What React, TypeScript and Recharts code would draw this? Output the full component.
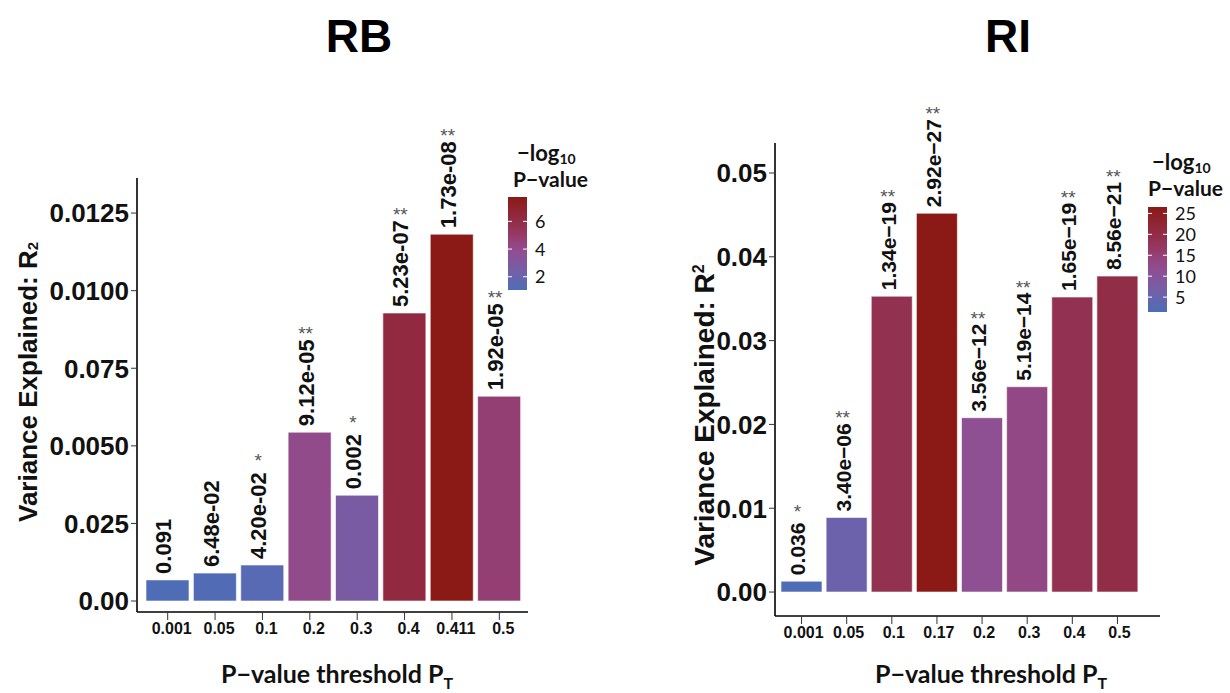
import React from "react";
import { BarChart, Bar, XAxis, YAxis, Cell, LabelList } from "recharts";

// RB panel
const rbThresholds = ["0.001", "0.05", "0.1", "0.2", "0.3", "0.4", "0.411", "0.5"];
const rbR2 = [0.00068, 0.0009, 0.00116, 0.00544, 0.00341, 0.00928, 0.01182, 0.0066];
const rbPValues = [0.091, 0.0648, 0.042, 9.12e-5, 0.002, 5.23e-7, 1.73e-8, 1.92e-5];
const rbPLabels = ["0.091", "6.48e-02", "4.20e-02", "9.12e-05", "0.002", "5.23e-07", "1.73e-08", "1.92e-05"];
const rbStars = ["", "", "*", "**", "*", "**", "**", "**"];
const rbTicks = [0, 0.0025, 0.005, 0.0075, 0.01, 0.0125];
const rbTickLabels = ["0.00", "0.025", "0.0050", "0.075", "0.0100", "0.0125"];
const rbLegendTicks = [2, 4, 6];

// RI panel
const riThresholds = ["0.001", "0.05", "0.1", "0.17", "0.2", "0.3", "0.4", "0.5"];
const riR2 = [0.0013, 0.0089, 0.0353, 0.0452, 0.0208, 0.0245, 0.0352, 0.0377];
const riPValues = [0.036, 3.4e-6, 1.34e-19, 2.92e-27, 3.56e-12, 5.19e-14, 1.65e-19, 8.56e-21];
const riPLabels = ["0.036", "3.40e−06", "1.34e−19", "2.92e−27", "3.56e−12", "5.19e−14", "1.65e−19", "8.56e−21"];
const riStars = ["*", "**", "**", "**", "**", "**", "**", "**"];
const riTicks = [0, 0.01, 0.02, 0.03, 0.04, 0.05];
const riTickLabels = ["0.00", "0.01", "0.02", "0.03", "0.04", "0.05"];
const riLegendTicks = [5, 10, 15, 20, 25];

const ARIAL = '"Liberation Sans", Arial, sans-serif';
const CAL = 'Lato, "Open Sans", sans-serif';

// low -> high -log10 p colour ramp
const RAMP: [number, string][] = [
  [0, "#4e6db6"],
  [0.2, "#735fa9"],
  [0.4, "#8e4f93"],
  [0.5, "#944580"],
  [0.6, "#953966"],
  [0.75, "#922c45"],
  [1, "#8b1a17"],
];

function hex(c: string) {
  return [1, 3, 5].map((i) => parseInt(c.slice(i, i + 2), 16));
}

function rampColor(t: number) {
  const tt = Math.max(0, Math.min(1, t));
  for (let i = 1; i < RAMP.length; i++) {
    if (tt <= RAMP[i][0]) {
      const [t0, c0] = RAMP[i - 1];
      const [t1, c1] = RAMP[i];
      const f = (tt - t0) / (t1 - t0);
      const a = hex(c0);
      const b = hex(c1);
      const m = a.map((v, k) => Math.round(v + (b[k] - v) * f));
      return `rgb(${m[0]},${m[1]},${m[2]})`;
    }
  }
  return RAMP[RAMP.length - 1][1];
}

function buildRows(th: string[], r2: number[], p: number[], labels: string[], stars: string[]) {
  const lp = p.map((v) => -Math.log10(v));
  const lo = Math.min(...lp);
  const hi = Math.max(...lp);
  return th.map((t, i) => ({
    t,
    r2: r2[i],
    label: labels[i],
    stars: stars[i],
    color: rampColor((lp[i] - lo) / (hi - lo)),
  }));
}

const rbRows = buildRows(rbThresholds, rbR2, rbPValues, rbPLabels, rbStars);
const riRows = buildRows(riThresholds, riR2, riPValues, riPLabels, riStars);

const CW: Record<string, number> = { ".": 0.278, "-": 0.333, "−": 0.584 };
function textWidth(s: string, size: number) {
  return [...s].reduce((w, c) => w + (CW[c] ?? 0.556), 0) * size;
}

function makeBarLabel(rows: any[], fs: number) {
  return (props: any) => {
    const { x, y, width, value } = props;
    const row = rows.find((r) => r.label === value);
    const cx = Number(x) + Number(width) / 2;
    const x0 = cx + 4;
    const y0 = Number(y) - 6;
    const end = y0 - textWidth(String(value), fs);
    const stars = row ? row.stars : "";
    const off = stars.length === 1 ? 16 : 10;
    return (
      <g>
        <text
          x={x0}
          y={y0}
          transform={`rotate(-90 ${x0} ${y0})`}
          fontFamily={ARIAL}
          fontWeight="bold"
          fontSize={fs}
          fill="#111"
        >
          {value}
        </text>
        {stars ? (
          <text x={cx - 4} y={end - off + 11} textAnchor="middle" fontFamily={ARIAL} fontSize={19} fill="#555">
            {stars}
          </text>
        ) : null}
      </g>
    );
  };
}

function Panel(props: {
  rows: any[];
  left: number;
  width: number;
  margin: { top: number; right: number; bottom: number; left: number };
  domain: [number, number];
  ticks: number[];
  tickLabels: string[];
  padding: { left: number; right: number };
  labelSize: number;
  tickDx: number;
}) {
  const { rows, ticks, tickLabels } = props;
  const yTick = (p: any) => {
    const i = ticks.indexOf(p.payload.value);
    return (
      <text x={p.x} y={p.y} dy="0.36em" textAnchor="end" fontFamily={ARIAL} fontWeight="bold" fontSize={26} fill="#111">
        {tickLabels[i]}
      </text>
    );
  };
  const xTick = (p: any) => (
    <text x={p.x + props.tickDx} y={p.y} dy="0.71em" textAnchor="middle" fontFamily={ARIAL} fontWeight="bold" fontSize={16} fill="#111">
      {p.payload.value}
    </text>
  );
  return (
    <div style={{ position: "absolute", left: props.left, top: 0 }}>
      <BarChart width={props.width} height={693} data={rows} margin={props.margin} barCategoryGap={2}>
        <XAxis
          dataKey="t"
          height={40}
          padding={props.padding}
          axisLine={{ stroke: "#000", strokeWidth: 1.6 }}
          tickLine={{ stroke: "#333", strokeWidth: 1 }}
          tickSize={8}
          tickMargin={3}
          tick={xTick}
          interval={0}
        />
        <YAxis
          type="number"
          width={80}
          domain={props.domain}
          ticks={ticks}
          axisLine={{ stroke: "#000", strokeWidth: 1.6 }}
          tickLine={{ stroke: "#333", strokeWidth: 1 }}
          tickSize={6}
          tickMargin={2}
          tick={yTick}
          interval={0}
        />
        <Bar dataKey="r2" isAnimationActive={false} stroke="#ffffff" strokeOpacity={0.6} strokeWidth={1}>
          {rows.map((r) => (
            <Cell key={r.t} fill={r.color} />
          ))}
          <LabelList dataKey="label" content={makeBarLabel(rows, props.labelSize)} />
        </Bar>
      </BarChart>
    </div>
  );
}

function ColorBar(props: {
  id: string;
  x: number;
  y: number;
  w: number;
  h: number;
  pvals: number[];
  ticks: number[];
  titleX: number;
  titleY: number;
}) {
  const { x, y, w, h } = props;
  const lp = props.pvals.map((v) => -Math.log10(v));
  const lo = Math.min(...lp);
  const hi = Math.max(...lp);
  const stops = Array.from({ length: 21 }, (_, i) => i / 20);
  return (
    <g>
      <defs>
        <linearGradient id={props.id} x1="0" y1="1" x2="0" y2="0">
          {stops.map((s) => (
            <stop key={s} offset={s} stopColor={rampColor(s)} />
          ))}
        </linearGradient>
      </defs>
      <text x={props.titleX} y={props.titleY} fontFamily={CAL} fontWeight="bold" fontSize={22} fill="#111">
        −log<tspan fontSize={14} dy={3}>10</tspan>
      </text>
      <text x={props.titleX - 4} y={props.titleY + 26} fontFamily={CAL} fontWeight="bold" fontSize={21} fill="#111">
        P−value
      </text>
      <rect x={x} y={y} width={w} height={h} fill={`url(#${props.id})`} />
      {props.ticks.map((t) => {
        const ty = y + h - ((t - lo) / (hi - lo)) * h;
        return (
          <g key={t}>
            <line x1={x} x2={x + 4} y1={ty} y2={ty} stroke="#fff" strokeWidth={1} />
            <line x1={x + w - 4} x2={x + w} y1={ty} y2={ty} stroke="#fff" strokeWidth={1} />
            <text x={x + w + 8} y={ty} dy="0.36em" fontFamily={CAL} fontSize={18} fill="#111">
              {t}
            </text>
          </g>
        );
      })}
    </g>
  );
}

export default function App() {
  return (
    <div style={{ position: "absolute", left: 0, top: 0, width: 1230, height: 693, background: "#fff", overflow: "hidden" }}>
      <Panel
        rows={rbRows}
        left={0}
        width={600}
        margin={{ top: 178, right: 72, bottom: 41, left: 57 }}
        domain={[-0.000354, 0.01363]}
        ticks={rbTicks}
        tickLabels={rbTickLabels}
        padding={{ left: 7, right: 5 }}
        labelSize={22}
        tickDx={4}
      />
      <Panel
        rows={riRows}
        left={620}
        width={610}
        margin={{ top: 143, right: 70, bottom: 37, left: 75 }}
        domain={[-0.00286, 0.05358]}
        ticks={riTicks}
        tickLabels={riTickLabels}
        padding={{ left: 4, right: 20 }}
        labelSize={21}
        tickDx={2}
      />
      <svg width={1230} height={693} style={{ position: "absolute", left: 0, top: 0, pointerEvents: "none" }}>
        <text x={359} y={52} textAnchor="middle" fontFamily={ARIAL} fontWeight="bold" fontSize={46} fill="#000">
          RB
        </text>
        <text x={1008} y={52} textAnchor="middle" fontFamily={ARIAL} fontWeight="bold" fontSize={46} fill="#000">
          RI
        </text>

        <text x={37} y={382} transform="rotate(-90 37 382)" textAnchor="middle" fontFamily={ARIAL} fontWeight="bold" fontSize={26} fill="#111">
          Variance Explained: R<tspan fontSize={15} dy={1}>2</tspan>
        </text>
        <text x={714} y={415} transform="rotate(-90 714 415)" textAnchor="middle" fontFamily={ARIAL} fontWeight="bold" fontSize={28} fill="#111">
          Variance Explained: R<tspan fontSize={16} dy={-10}>2</tspan>
        </text>

        <text x={337} y={683} textAnchor="middle" fontFamily={CAL} fontWeight="bold" fontSize={25} fill="#111">
          P−value threshold P<tspan fontSize={16} dy={6}>T</tspan>
        </text>
        <text x={991} y={683} textAnchor="middle" fontFamily={CAL} fontWeight="bold" fontSize={25} fill="#111">
          P−value threshold P<tspan fontSize={16} dy={6}>T</tspan>
        </text>

        <ColorBar id="rbGrad" x={508} y={197} w={19} h={93} pvals={rbPValues} ticks={rbLegendTicks} titleX={517} titleY={161} />
        <ColorBar id="riGrad" x={1148} y={207} w={19} h={105} pvals={riPValues} ticks={riLegendTicks} titleX={1152} titleY={170} />
      </svg>
    </div>
  );
}
